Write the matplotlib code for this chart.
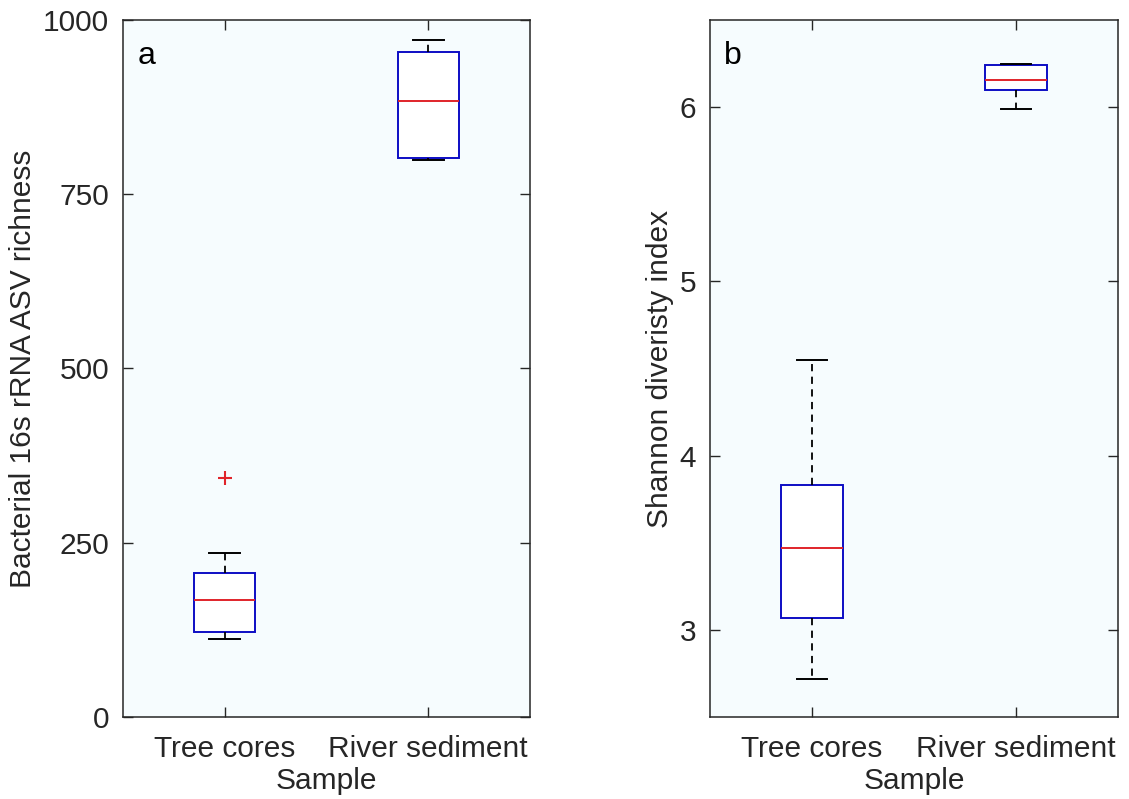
import matplotlib
matplotlib.use("Agg")
import matplotlib.pyplot as plt

plt.rcParams['font.family'] = ['Liberation Sans', 'DejaVu Sans']

samples = ["Tree cores", "River sediment"]

# panel a: bacterial 16S rRNA ASV richness
rich_whislo = [112, 799]
rich_q1 = [122, 802]
rich_med = [168, 884]
rich_q3 = [207, 954]
rich_whishi = [236, 971]
rich_fliers = [[343], []]

# panel b: Shannon diversity index
shan_whislo = [2.72, 5.99]
shan_q1 = [3.07, 6.10]
shan_med = [3.47, 6.155]
shan_q3 = [3.83, 6.24]
shan_whishi = [4.55, 6.25]
shan_fliers = [[], []]


def make_stats(lo, q1, med, q3, hi, fl):
    return [dict(whislo=lo[i], q1=q1[i], med=med[i], q3=q3[i], whishi=hi[i],
                 fliers=fl[i], label=samples[i]) for i in range(len(samples))]


fig = plt.figure(figsize=(11.29, 7.99), dpi=100)
ax1 = fig.add_axes([123 / 1129, 1 - 717 / 799, 407 / 1129, 697 / 799])
ax2 = fig.add_axes([710 / 1129, 1 - 717 / 799, 408 / 1129, 697 / 799])

panels = [
    (ax1, make_stats(rich_whislo, rich_q1, rich_med, rich_q3, rich_whishi, rich_fliers),
     "Bacterial 16s rRNA ASV richness", (0, 1000), [0, 250, 500, 750, 1000], "a"),
    (ax2, make_stats(shan_whislo, shan_q1, shan_med, shan_q3, shan_whishi, shan_fliers),
     "Shannon diveristy index", (2.5, 6.5), [3, 4, 5, 6], "b"),
]

for ax, stats, ylab, ylim, yt, letter in panels:
    ax.set_facecolor('#f6fcfe')
    ax.bxp(stats, positions=[1, 2], widths=0.3, patch_artist=True,
           boxprops=dict(facecolor='white', edgecolor='#0d0dc4', linewidth=1.4),
           medianprops=dict(color='#e0242a', linewidth=1.4),
           whiskerprops=dict(color='black', linestyle=(0, (4, 3)), linewidth=1.3),
           capprops=dict(color='black', linewidth=1.4),
           capwidths=0.15,
           flierprops=dict(marker='+', markeredgecolor='#e0242a', markersize=10,
                           markeredgewidth=1.5, linestyle='none'))
    ax.set_xlim(0.5, 2.5)
    ax.set_ylim(*ylim)
    ax.set_yticks(yt)
    ax.set_xticks([1, 2])
    ax.set_xticklabels(samples)
    ax.tick_params(direction='in', top=True, right=True, labelsize=21.5,
                   length=7, width=1, colors='#262626', labelcolor='#262626')
    ax.tick_params(axis='x', pad=13)
    ax.tick_params(axis='y', pad=10)
    for s in ax.spines.values():
        s.set_color('#262626')
        s.set_linewidth(1.1)
    ax.set_xlabel("Sample", fontsize=21.5, color='#262626', labelpad=3)
    ax.set_ylabel(ylab, fontsize=21.5, color='#262626', labelpad=4)
    ax.text(0.035, 0.97, letter, transform=ax.transAxes, fontsize=23,
            va='top', ha='left', color='black')

fig.savefig("out.png", dpi=100)
